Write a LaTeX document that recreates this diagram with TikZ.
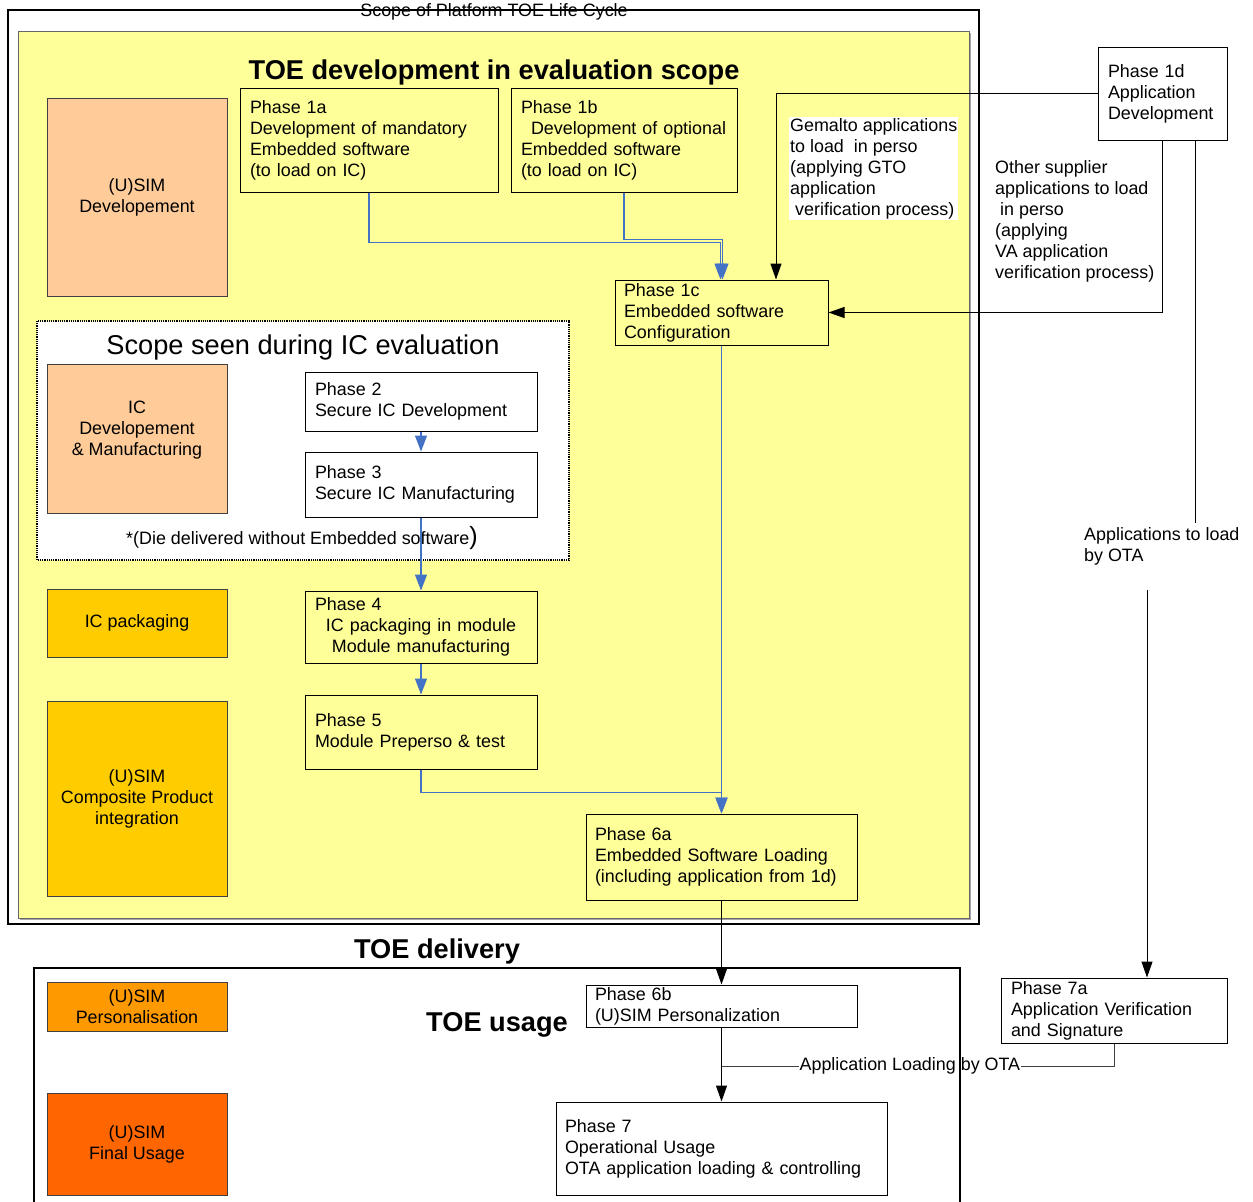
\documentclass[tikz,border=0pt]{standalone}
\usepackage{fontspec}
\setmainfont{Liberation Sans}
\usetikzlibrary{arrows.meta,calc}
\definecolor{bgyellow}{HTML}{FFFF99}
\definecolor{peach}{HTML}{FFCC99}
\definecolor{gold}{HTML}{FFCC00}
\definecolor{orng}{HTML}{FF9900}
\definecolor{dorng}{HTML}{FF6600}
\definecolor{arrblue}{HTML}{4472C4}
\tikzset{
 txt/.style={font=\fontsize{17.9}{21}\selectfont},
 bigt/.style={font=\fontsize{27.2}{32}\selectfont},
 bigb/.style={font=\fontsize{27.2}{32}\selectfont\bfseries},
 phase/.style={txt, draw=black, line width=1pt, align=left, inner xsep=10pt, inner ysep=0pt},
 side/.style={txt, draw=black!75, line width=1pt, align=center, inner sep=0pt, minimum width=180pt},
 blueln/.style={draw=arrblue, line width=1.2pt},
 bluearr/.style={blueln, -{Triangle[length=16pt,width=12pt]}},
 blkln/.style={draw=black, line width=1pt},
 blkarr/.style={blkln, -{Triangle[length=16pt,width=11pt]}},
}
\begin{document}
\begin{tikzpicture}[x=1pt,y=-1pt]
\useasboundingbox (0,0) rectangle (1253,1202);
% outer frame
\draw[line width=1.6pt] (8,10) rectangle (979,924);
\node[txt, inner sep=0pt] (lifecycle) at (494,12) {Scope of Platform TOE Life Cycle};
% yellow area
\fill[black!35] (20,33) rectangle (971,920);
\draw[fill=bgyellow, draw=black!60, line width=1pt] (18,31) rectangle (969,918);
\node[bigb, inner sep=0pt] (devtitle) at (494,72) {TOE development in evaluation scope};
% side boxes
\node[side, fill=peach, minimum height=198pt] (usimdev) at (137,197) {(U)SIM\\Developement};
% dotted IC scope
\draw[fill=white, densely dotted, line width=1.2pt] (37,321) rectangle (569,560);
\node[bigt, inner sep=0pt] (ictitle) at (303,347) {Scope seen during IC evaluation};
\node[side, fill=peach, minimum height=149pt] (icdev) at (137,438.5) {IC\\Developement\\\& Manufacturing\\\mbox{}};
\node[side, fill=gold, minimum height=68pt] (icpack) at (137,623) {IC packaging};
\node[side, fill=gold, minimum height=195pt] (composite) at (137,798.5) {(U)SIM\\Composite Product\\integration};
% phases
\node[phase, text width=238pt, minimum height=104pt] (p1a) at (369,140) {Phase 1a\\Development of mandatory\\Embedded software\\(to load on IC)};
\node[phase, text width=206pt, minimum height=104pt] (p1b) at (624,140) {Phase 1b\\\hspace*{10pt}Development of optional\\Embedded software\\(to load on IC)};
\node[phase, inner xsep=9pt, text width=195pt, minimum height=65pt] (p1c) at (721.5,312.5) {Phase 1c\\Embedded software\\Configuration};
\node[phase, fill=white, text width=109pt, minimum height=93pt] (p1d) at (1162.5,93.5) {Phase 1d\\Application\\Development};
\node[txt, fill=white, align=left, inner sep=1pt, anchor=north west] (gemalto) at (789,117) {Gemalto applications\\to load\ \ in perso\\(applying GTO\\application\\\hspace*{5pt}verification process)};
\node[txt, align=left, inner sep=0pt, anchor=west] (other) at (995,221.5) {Other supplier\\applications to load\\\hspace*{5pt}in perso\\(applying\\VA application\\verification process)};
\node[phase, fill=white, text width=212pt, minimum height=59pt] (p2) at (421,401.5) {Phase 2\\Secure IC Development};
\node[phase, fill=white, text width=212pt, minimum height=65pt] (p3) at (421,484.5) {Phase 3\\Secure IC Manufacturing};
\node[txt, inner sep=0pt] (die) at (302,538) {*(Die delivered without Embedded software{\fontsize{25}{25}\selectfont)}};
\node[phase, align=center, text width=212pt, minimum height=72pt] (p4) at (421,627) {\makebox[212pt][l]{Phase 4}\\IC packaging in module\\Module manufacturing};
\node[phase, text width=212pt, minimum height=74pt] (p5) at (421,732) {Phase 5\\Module Preperso \& test};
\node[phase, inner xsep=9pt, text width=253pt, minimum height=86pt] (p6a) at (721.5,857) {Phase 6a\\Embedded Software Loading\\(including application from 1d)};
% OTA label
\node[txt, align=left, inner sep=0pt, anchor=west] (otalbl) at (1084,546.5) {Applications to load\\by OTA};
\coordinate (otaA) at (1195,523);
\coordinate (otaB) at (1147,590);
\node[phase, fill=white, text width=206pt, minimum height=65pt] (p7a) at (1114,1010.5) {Phase 7a\\Application Verification\\and Signature};
% delivery / usage
\node[bigb, inner sep=0pt] (delivery) at (437,951) {TOE delivery};
\coordinate (join) at (721.5,1066);
\draw[blkln, draw=black!75] (p7a.south) |- node[txt, pos=0.76, fill=white, inner sep=1pt] (otaload) {Application Loading by OTA} (join);
\draw[line width=1.6pt] (34,1215) -- (34,968) -- (960,968) -- (960,1215);
\node[bigb, inner sep=0pt] (usage) at (497,1025) {TOE usage};
\node[side, fill=orng, minimum height=49pt] (perso) at (137,1006.5) {(U)SIM\\Personalisation};
\node[side, fill=dorng, minimum height=102pt] (final) at (137,1144) {(U)SIM\\Final Usage};
\node[phase, fill=white, inner xsep=9pt, text width=253pt, minimum height=42pt] (p6b) at (721.5,1006) {Phase 6b\\(U)SIM Personalization};
\node[phase, fill=white, inner xsep=9pt, text width=313pt, minimum height=93pt] (p7) at (721.5,1148.5) {Phase 7\\Operational Usage\\OTA application loading \& controlling};
% connectors
\draw[blkarr] (p1d.west) -| ([xshift=54.5pt]p1c.north);
\draw[blkarr] (p1d.south) |- (p1c.east);
\draw[blkln] ([xshift=32.5pt]p1d.south) -- (otaA);
\draw[blkarr] (otaB) -- ([xshift=33pt]p7a.north);
\draw[bluearr] (p1a.south) -- ++(0,50) -| ([xshift=-1pt]p1c.north);
\draw[bluearr] (p1b.south) -- ++(0,47) -| ([xshift=1pt]p1c.north);
\draw[bluearr] (p2) -- (p3);
\draw[bluearr] (p3) -- (p4);
\draw[bluearr] (p4) -- (p5);
\draw[bluearr] (p1c) -- (p6a);
\draw[bluearr] (p5.south) -- ++(0,23) -| (p6a.north);
\draw[blkarr] (p6a) -- (p6b);
\draw[blkarr] (p6b) -- (p7);
\end{tikzpicture}
\end{document}
